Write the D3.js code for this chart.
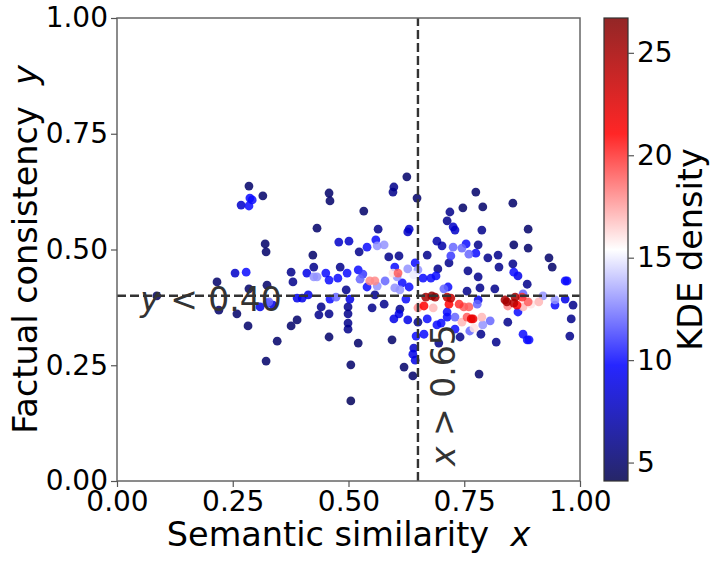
<!DOCTYPE html>
<html lang="en">
<head>
<meta charset="UTF-8">
<title>Semantic similarity vs factual consistency</title>
<script src="https://d3js.org/d3.v7.min.js"></script>
<style>
  body { margin: 0; background: #fff; }
  svg text { font-family: "DejaVu Sans", sans-serif; fill: #000; }
  .it { font-style: italic; }
</style>
</head>
<body>
<svg width="717" height="563"></svg>
<script>
// points: x = semantic similarity, y = factual consistency, kde = density
const simX = [
  0.285,0.287,0.292,0.268,0.285,0.315,0.320,0.322,0.255,0.279,0.216,0.285,0.324,0.376,0.380,0.410,
  0.220,0.259,0.283,0.309,0.324,0.328,0.337,0.389,0.400,0.413,0.376,0.389,0.346,0.322,0.086,
  0.458,0.460,0.533,0.598,0.596,0.626,0.432,0.564,0.628,0.479,0.501,0.559,0.562,0.577,0.540,0.523,
  0.423,0.587,0.609,0.425,0.482,0.451,0.425,0.432,0.458,0.477,0.497,0.521,0.531,0.525,0.546,0.557,
  0.540,0.562,0.579,0.600,0.596,0.607,0.605,0.616,0.600,0.611,0.631,0.628,0.495,0.460,0.473,0.503,
  0.557,0.624,0.441,0.499,0.551,0.577,0.611,0.609,0.598,0.436,0.458,0.499,0.499,0.499,0.628,0.458,
  0.521,0.594,0.505,0.620,0.505,
  0.648,0.631,0.775,0.747,0.790,0.719,0.713,0.726,0.730,0.788,0.691,0.702,0.726,0.721,0.745,0.754,
  0.760,0.775,0.780,0.801,0.823,0.670,0.717,0.644,0.650,0.641,0.693,0.758,0.825,0.661,0.678,0.689,
  0.780,0.784,0.816,0.715,0.706,0.756,0.667,0.680,0.687,0.713,0.721,0.717,0.739,0.749,0.760,0.663,
  0.654,0.650,0.683,0.780,0.778,0.713,0.713,0.670,0.650,0.730,0.756,0.765,0.769,0.788,0.745,0.771,
  0.790,0.806,0.700,0.691,0.730,0.762,0.786,0.741,0.663,0.646,0.695,0.641,0.639,0.644,0.639,0.782,
  0.819,
  0.855,0.888,0.857,0.888,0.855,0.857,0.866,0.933,0.940,0.886,0.972,0.968,0.838,0.842,0.860,0.857,
  0.875,0.877,0.844,0.864,0.877,0.888,0.894,0.911,0.920,0.946,0.946,0.968,0.985,0.866,0.844,0.981,
  0.877,0.886,0.890,0.978
];
const factY = [
  0.637,0.611,0.607,0.596,0.594,0.616,0.512,0.495,0.449,0.451,0.430,0.415,0.423,0.451,0.430,0.449,
  0.369,0.361,0.335,0.376,0.384,0.387,0.380,0.395,0.395,0.402,0.335,0.348,0.302,0.259,0.400,
  0.622,0.605,0.583,0.635,0.624,0.657,0.546,0.544,0.538,0.516,0.518,0.521,0.508,0.510,0.505,0.495,
  0.488,0.484,0.486,0.462,0.462,0.449,0.441,0.441,0.434,0.438,0.449,0.456,0.447,0.436,0.432,0.432,
  0.419,0.421,0.432,0.462,0.449,0.449,0.441,0.428,0.417,0.413,0.419,0.458,0.413,0.393,0.397,0.393,
  0.402,0.393,0.376,0.376,0.374,0.382,0.371,0.361,0.350,0.359,0.361,0.361,0.341,0.328,0.348,0.311,
  0.298,0.305,0.251,0.246,0.173,
  0.611,0.544,0.624,0.590,0.592,0.581,0.562,0.549,0.542,0.542,0.518,0.508,0.505,0.486,0.503,0.512,
  0.490,0.492,0.510,0.482,0.488,0.488,0.471,0.471,0.456,0.445,0.458,0.454,0.462,0.438,0.438,0.443,
  0.441,0.417,0.415,0.419,0.415,0.410,0.397,0.400,0.397,0.397,0.395,0.382,0.382,0.376,0.376,0.378,
  0.380,0.374,0.374,0.391,0.382,0.365,0.354,0.350,0.343,0.354,0.354,0.350,0.350,0.354,0.343,0.330,
  0.337,0.346,0.341,0.337,0.328,0.324,0.317,0.311,0.317,0.313,0.298,0.287,0.274,0.261,0.227,0.231,
  0.300,
  0.600,0.544,0.510,0.503,0.469,0.451,0.443,0.482,0.462,0.425,0.432,0.432,0.391,0.387,0.397,0.384,
  0.397,0.404,0.378,0.380,0.376,0.387,0.382,0.387,0.400,0.391,0.380,0.393,0.380,0.365,0.343,0.350,
  0.317,0.305,0.305,0.313
];
const kde = [
  5,10,10,8,10,5,5,5,8,10,5,5,5,6,6,9,
  5,5,5,9,11,12,9,9,9,9,5,5,5,5,4.5,
  5,5,5,6,6,5,5,6,8,8,8,10,13,13,10,6,
  5,6,6,6,6,10,13,13,10,10,10,10,11,12,18,18,
  10,13,12,10,16,19,13,10,13,13,10,13,6,10,12,9,
  6,10,6,6,6,6,6,9,9,6,6,6,6,6,9,5,
  5,5,5,5,4.5,
  5,8,5,5,5,6,6,8,8,6,7,7,12,11,12,10,
  12,10,6,6,6,6,6,10,13,15,6,6,6,10,10,10,
  6,6,6,10,12,6,25,26,25,24,24,21,20,19,19,21,
  16,18,17,9,12,10,10,10,6,12,19,22,22,17,17,16,
  13,12,10,10,10,12,6,6,10,10,6,8,9,9,5,5,
  6,
  5,5,5,5,6,10,9,5,5,6,10,10,25,25,25,24,
  20,12,18,21,17,19,16,17,13,13,10,9,6,10,6,6,
  10,10,10,6
];

const axisTicks = [0, 0.25, 0.5, 0.75, 1];
const cbarTicks = [5, 10, 15, 20, 25];
const densityRange = [4.1, 26.7];
const xCut = 0.65, yCut = 0.40;

const svg = d3.select("svg");
const plotL = 117, plotR = 580, plotT = 18, plotB = 481;

const x = d3.scaleLinear().domain([0, 1]).range([plotL, plotR]);
const y = d3.scaleLinear().domain([0, 1]).range([plotB, plotT]);

// matplotlib "seismic" colormap
const seismic = d3.scaleLinear()
    .domain([0, 0.25, 0.5, 0.75, 1])
    .range(["rgb(0,0,77)", "rgb(0,0,255)", "rgb(255,255,255)", "rgb(255,0,0)", "rgb(128,0,0)"]);
const norm = d3.scaleLinear().domain(densityRange).range([0, 1]).clamp(true);
const color = d => seismic(norm(d));
const alpha = 0.85;

const points = simX.map((v, i) => ({ x: v, y: factY[i], d: kde[i] }))
    .sort((a, b) => a.d - b.d);

// points
svg.append("g")
  .selectAll("circle")
  .data(points)
  .join("circle")
    .attr("cx", d => x(d.x))
    .attr("cy", d => y(d.y))
    .attr("r", 4.4)
    .attr("fill", d => color(d.d))
    .attr("fill-opacity", alpha);

// threshold lines
svg.append("line")
    .attr("x1", x(0)).attr("x2", x(1))
    .attr("y1", y(yCut)).attr("y2", y(yCut))
    .attr("stroke", "#333").attr("stroke-width", 2.4).attr("stroke-dasharray", "9,4");
svg.append("line")
    .attr("x1", x(xCut)).attr("x2", x(xCut))
    .attr("y1", y(0)).attr("y2", y(1))
    .attr("stroke", "#333").attr("stroke-width", 2.4).attr("stroke-dasharray", "9,4");

// threshold annotations
const yNote = svg.append("text")
    .attr("x", x(0.05)).attr("y", y(yCut) + 15)
    .style("font-size", "33px").style("fill", "#333").style("white-space", "pre");
yNote.append("tspan").attr("class", "it").text("y");
yNote.append("tspan").text(" < 0.40");

const xNote = svg.append("text")
    .attr("transform", `translate(${x(xCut) + 37},${y(0) - 15}) rotate(-90)`)
    .style("font-size", "33px").style("fill", "#333").style("white-space", "pre");
xNote.append("tspan").attr("class", "it").text("x");
xNote.append("tspan").text(" > 0.65");

// frame
svg.append("rect")
    .attr("x", plotL).attr("y", plotT)
    .attr("width", plotR - plotL).attr("height", plotB - plotT)
    .attr("fill", "none").attr("stroke", "#666").attr("stroke-width", 1.5);

// axes
const fmt = d3.format(".2f");
const xAxis = svg.append("g")
    .attr("transform", `translate(0,${plotB})`)
    .call(d3.axisBottom(x).tickValues(axisTicks).tickFormat(fmt).tickSize(6).tickPadding(4));
const yAxis = svg.append("g")
    .attr("transform", `translate(${plotL},0)`)
    .call(d3.axisLeft(y).tickValues(axisTicks).tickFormat(fmt).tickSize(6).tickPadding(3));
[xAxis, yAxis].forEach(g => {
  g.select(".domain").remove();
  g.selectAll(".tick line").attr("stroke", "#555").attr("stroke-width", 1.2);
  g.selectAll(".tick text").style("font-size", "28px").style("font-family", "DejaVu Sans");
});

// axis labels
const xLabel = svg.append("text")
    .attr("x", (plotL + plotR) / 2).attr("y", 546)
    .attr("text-anchor", "middle")
    .style("font-size", "33.5px").style("white-space", "pre");
xLabel.append("tspan").text("Semantic similarity  ");
xLabel.append("tspan").attr("class", "it").text("x");

const yLabel = svg.append("text")
    .attr("transform", `translate(37,${(plotT + plotB) / 2}) rotate(-90)`)
    .attr("text-anchor", "middle")
    .style("font-size", "33.5px").style("white-space", "pre");
yLabel.append("tspan").text("Factual consistency  ");
yLabel.append("tspan").attr("class", "it").text("y");

// colorbar
const cbX = 604, cbW = 24;
const cbScale = d3.scaleLinear().domain(densityRange).range([plotB, plotT]);
const grad = svg.append("defs").append("linearGradient")
    .attr("id", "cbGrad").attr("x1", 0).attr("y1", 1).attr("x2", 0).attr("y2", 0);
grad.selectAll("stop")
  .data(d3.range(0, 1.0001, 0.05))
  .join("stop")
    .attr("offset", t => t)
    .attr("stop-color", t => seismic(t))
    .attr("stop-opacity", alpha);
svg.append("rect")
    .attr("x", cbX).attr("y", plotT).attr("width", cbW).attr("height", plotB - plotT)
    .attr("fill", "url(#cbGrad)").attr("stroke", "#333").attr("stroke-width", 1.2);

const cbAxis = svg.append("g")
    .attr("transform", `translate(${cbX + cbW},0)`)
    .call(d3.axisRight(cbScale).tickValues(cbarTicks).tickSize(6).tickPadding(3));
cbAxis.select(".domain").remove();
cbAxis.selectAll(".tick line").attr("stroke", "#555").attr("stroke-width", 1.2);
cbAxis.selectAll(".tick text").style("font-size", "28px").style("font-family", "DejaVu Sans");

svg.append("text")
    .attr("transform", `translate(702,${(plotT + plotB) / 2}) rotate(-90)`)
    .attr("text-anchor", "middle")
    .style("font-size", "33.5px")
    .text("KDE density");
</script>
</body>
</html>
